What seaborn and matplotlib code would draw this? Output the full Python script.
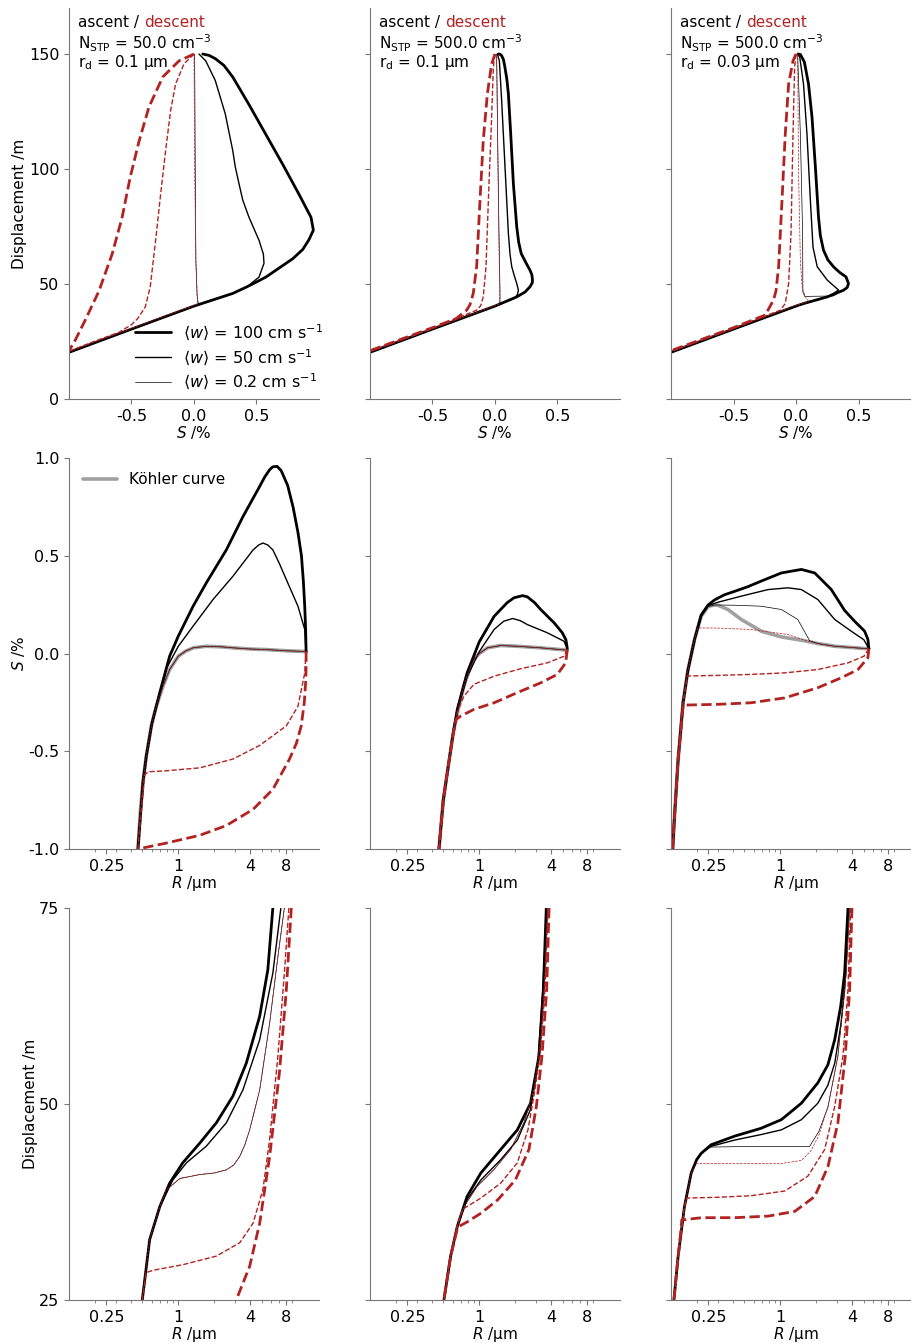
import seaborn as sns
import matplotlib.pyplot as plt
from matplotlib.lines import Line2D
from matplotlib.ticker import FixedLocator, LogLocator, NullFormatter

# Parcel ascent / descent trajectories.
# Three cases (columns a, b, c), three projections (rows):
#   sz_* : (S %, displacement m),  rs_* : (R um, S %),  rz_* : (R um, displacement m)
# up = ascent (black), dn = descent (red dashed); 100 / 50 / 02 = <w> in cm/s

cases_n = ["50.0", "500.0", "500.0"]
cases_rd = ["0.1", "0.1", "0.03"]
w_labels = ["100", "50", "0.2"]

# ---- row 1: S vs displacement ----
sz_a_up100 = [(-1.0, 20.3), (-0.5, 30.4), (0.0, 40.4), (0.31, 45.9), (0.44, 49.2), (0.575, 53.0),
              (0.79, 61.0), (0.87, 65.0), (0.92, 69.3), (0.955, 73.4), (0.936, 79.0), (0.84, 89.0),
              (0.71, 102.0), (0.575, 115.0), (0.44, 128.0), (0.31, 140.0), (0.24, 145.0),
              (0.17, 148.0), (0.12, 149.4), (0.07, 150.0)]
sz_a_up50 = [(-1.0, 20.3), (-0.5, 30.4), (0.0, 40.4), (0.31, 45.9), (0.42, 48.6), (0.52, 53.0),
             (0.56, 59.0), (0.555, 63.0), (0.52, 69.0), (0.48, 74.0), (0.44, 79.0), (0.39, 86.5),
             (0.36, 93.6), (0.33, 101.0), (0.31, 108.0), (0.25, 124.0), (0.17, 138.5),
             (0.094, 147.0), (0.04, 150.0)]
sz_a_up02 = [(-1.0, 20.3), (-0.5, 30.4), (0.0, 40.4), (0.035, 41.2), (0.025, 45.0), (0.015, 60.0),
             (0.01, 100.0), (0.005, 150.0)]
sz_a_dn100 = [(0.0, 150.0), (-0.12, 147.0), (-0.25, 140.0), (-0.36, 127.0), (-0.44, 112.0),
              (-0.51, 96.5), (-0.575, 79.0), (-0.655, 63.0), (-0.76, 47.0), (-0.87, 34.3),
              (-0.95, 25.6), (-1.0, 21.0)]
sz_a_dn50 = [(0.0, 150.0), (-0.08, 145.7), (-0.147, 137.0), (-0.187, 125.5), (-0.227, 108.0),
             (-0.267, 89.0), (-0.307, 69.0), (-0.35, 48.8), (-0.39, 40.0), (-0.45, 35.0),
             (-0.5, 32.3), (-0.6, 29.0), (-0.8, 25.0), (-1.0, 20.8)]
sz_a_dn02 = [(0.0, 150.0), (0.005, 100.0), (0.015, 60.0), (0.025, 45.0), (0.03, 41.5), (0.0, 40.7),
             (-0.5, 30.7), (-1.0, 20.7)]

sz_b_up100 = [(-1.0, 20.3), (-0.5, 30.4), (0.0, 40.4), (0.174, 44.4), (0.24, 46.5), (0.28, 48.8),
              (0.298, 50.5), (0.30, 51.7), (0.295, 54.0), (0.28, 56.0), (0.245, 59.5), (0.21, 63.2),
              (0.19, 68.0), (0.174, 74.8), (0.147, 93.6), (0.126, 115.0), (0.107, 132.7),
              (0.095, 139.0), (0.08, 144.0), (0.068, 147.5), (0.053, 149.3), (0.04, 149.9),
              (0.027, 150.0)]
sz_b_up50 = [(-1.0, 20.3), (-0.5, 30.4), (0.0, 40.4), (0.16, 43.9), (0.18, 45.5), (0.187, 47.3),
             (0.174, 50.2), (0.155, 53.5), (0.134, 57.5), (0.12, 63.0), (0.107, 72.0), (0.08, 101.0),
             (0.053, 130.0), (0.035, 147.0), (0.019, 150.0)]
sz_b_up02 = [(-1.0, 20.3), (-0.5, 30.4), (0.0, 40.4), (0.04, 41.2), (0.04, 47.3), (0.032, 72.0),
             (0.021, 115.0), (0.013, 150.0)]
sz_b_dn100 = [(0.0, 150.0), (-0.027, 145.7), (-0.061, 132.7), (-0.094, 112.4), (-0.12, 86.4),
              (-0.147, 57.5), (-0.174, 45.9), (-0.2, 41.0), (-0.227, 38.6), (-0.31, 35.0),
              (-0.5, 31.0), (-1.0, 21.0)]
sz_b_dn50 = [(0.0, 150.0), (-0.013, 144.3), (-0.027, 122.6), (-0.053, 86.4), (-0.072, 57.5),
             (-0.094, 44.4), (-0.115, 40.5), (-0.147, 38.6), (-0.5, 30.8), (-1.0, 20.8)]
sz_b_dn02 = [(0.013, 150.0), (0.02, 115.0), (0.03, 72.0), (0.038, 47.0), (0.035, 41.3), (0.0, 40.6),
             (-0.5, 30.6), (-1.0, 20.6)]

sz_c_up100 = [(-1.0, 20.3), (-0.5, 30.4), (0.0, 40.4), (0.06, 41.5), (0.25, 44.4), (0.38, 47.3),
              (0.41, 48.5), (0.42, 50.2), (0.40, 53.1), (0.35, 55.0), (0.30, 57.5), (0.255, 60.5),
              (0.22, 64.7), (0.195, 71.0), (0.18, 79.2), (0.155, 100.9), (0.128, 122.6),
              (0.10, 137.0), (0.067, 146.5), (0.035, 149.8), (0.016, 150.0)]
sz_c_up50 = [(-1.0, 20.3), (-0.5, 30.4), (0.0, 40.4), (0.25, 44.4), (0.30, 45.9), (0.34, 47.4),
             (0.30, 49.3), (0.25, 51.7), (0.17, 57.5), (0.136, 66.0), (0.115, 86.4), (0.088, 115.0),
             (0.06, 137.0), (0.03, 148.6), (0.013, 150.0)]
sz_c_up02 = [(-1.0, 20.3), (-0.5, 30.4), (0.0, 40.4), (0.25, 44.4), (0.33, 45.8), (0.30, 44.8),
             (0.07, 44.6), (0.055, 46.5), (0.053, 72.0), (0.035, 115.0), (0.013, 150.0)]
sz_c_dn100 = [(0.0, 150.0), (-0.024, 147.0), (-0.059, 137.0), (-0.086, 115.0), (-0.112, 86.4),
              (-0.139, 57.5), (-0.16, 47.0), (-0.18, 43.0), (-0.246, 36.5), (-0.5, 31.0), (-1.0, 21.0)]
sz_c_dn50 = [(0.0, 150.0), (-0.011, 144.3), (-0.024, 115.0), (-0.04, 72.0), (-0.059, 50.2),
             (-0.086, 41.5), (-0.126, 38.6), (-0.5, 30.8), (-1.0, 20.8)]
sz_c_dn02 = [(0.013, 150.0), (0.02, 100.0), (0.035, 60.0), (0.05, 48.0), (0.08, 44.0), (0.1, 42.5),
             (0.0, 40.7), (-0.5, 30.7), (-1.0, 20.7)]

# ---- row 2: R vs S, with Koehler curves ----
kohler_a = [(0.46, -1.0), (0.48, -0.82), (0.506, -0.66), (0.54, -0.525), (0.595, -0.371),
            (0.655, -0.27), (0.745, -0.167), (0.846, -0.082), (1.0, -0.014), (1.15, 0.012),
            (1.33, 0.029), (1.71, 0.037), (2.3, 0.034), (2.86, 0.029), (4.0, 0.023), (5.44, 0.02),
            (8.0, 0.014), (11.7, 0.01)]
rs_a_up100 = [(0.46, -1.0), (0.506, -0.66), (0.54, -0.525), (0.60, -0.36), (0.70, -0.2),
              (0.846, -0.014), (1.0, 0.089), (1.33, 0.242), (1.71, 0.36), (2.52, 0.53), (3.47, 0.70),
              (4.79, 0.855), (5.3, 0.905), (5.8, 0.94), (6.17, 0.955), (6.7, 0.957), (7.25, 0.935),
              (8.2, 0.86), (9.1, 0.75), (10.0, 0.62), (10.7, 0.50), (11.1, 0.37), (11.4, 0.24),
              (11.6, 0.12), (11.7, 0.01)]
rs_a_up50 = [(0.46, -1.0), (0.506, -0.66), (0.54, -0.525), (0.60, -0.36), (0.70, -0.21),
             (0.79, -0.08), (1.0, 0.037), (1.33, 0.14), (1.95, 0.276), (2.86, 0.395), (4.22, 0.53),
             (4.7, 0.555), (5.1, 0.565), (5.6, 0.555), (6.17, 0.53), (7.0, 0.46), (8.0, 0.378),
             (10.0, 0.242), (11.4, 0.123), (11.7, 0.01)]
rs_a_up02 = kohler_a
rs_a_dn100 = [(11.7, 0.01), (11.7, -0.06), (11.65, -0.13), (11.3, -0.25), (10.66, -0.37),
              (9.7, -0.46), (8.5, -0.54), (6.17, -0.695), (4.22, -0.797), (2.52, -0.88),
              (1.51, -0.93), (0.79, -0.97), (0.46, -1.0)]
rs_a_dn50 = [(11.7, 0.01), (11.4, -0.1), (10.0, -0.27), (8.0, -0.37), (4.79, -0.47), (2.86, -0.54),
             (1.51, -0.585), (0.79, -0.6), (0.56, -0.605), (0.525, -0.62), (0.49, -0.8), (0.46, -1.0)]
rs_a_dn02 = kohler_a

kohler_b = [(0.46, -1.0), (0.50, -0.75), (0.54, -0.61), (0.614, -0.388), (0.68, -0.26),
            (0.744, -0.167), (0.82, -0.09), (0.90, -0.03), (1.0, 0.0), (1.17, 0.029), (1.51, 0.041),
            (2.08, 0.037), (3.26, 0.029), (5.44, 0.017)]
rs_b_up100 = [(0.46, -1.0), (0.50, -0.75), (0.54, -0.61), (0.60, -0.42), (0.655, -0.286),
              (0.79, -0.1), (1.0, 0.06), (1.33, 0.19), (1.71, 0.26), (1.95, 0.285), (2.3, 0.296),
              (2.52, 0.29), (2.9, 0.26), (3.26, 0.225), (4.22, 0.157), (4.94, 0.106), (5.3, 0.07),
              (5.44, 0.025)]
rs_b_up50 = [(0.46, -1.0), (0.50, -0.75), (0.54, -0.61), (0.60, -0.42), (0.655, -0.29),
             (0.79, -0.12), (1.0, 0.01), (1.33, 0.123), (1.6, 0.165), (1.9, 0.179), (2.2, 0.168),
             (2.52, 0.148), (3.7, 0.106), (5.1, 0.063), (5.44, 0.025)]
rs_b_up02 = kohler_b
rs_b_dn100 = [(5.44, 0.02), (5.27, -0.048), (4.49, -0.107), (3.26, -0.15), (2.08, -0.2),
              (1.33, -0.252), (0.9, -0.286), (0.70, -0.32), (0.64, -0.337), (0.60, -0.42),
              (0.54, -0.61), (0.50, -0.75), (0.46, -1.0)]
rs_b_dn50 = [(5.44, 0.02), (5.1, -0.014), (3.7, -0.048), (2.21, -0.078), (1.33, -0.116),
             (0.9, -0.158), (0.744, -0.218), (0.655, -0.3), (0.614, -0.388), (0.54, -0.61),
             (0.50, -0.75), (0.46, -1.0)]
rs_b_dn02 = kohler_b

kohler_c = [(0.126, -1.0), (0.13, -0.85), (0.14, -0.54), (0.154, -0.25), (0.169, -0.085),
            (0.192, 0.072), (0.218, 0.19), (0.249, 0.24), (0.282, 0.248), (0.301, 0.247),
            (0.365, 0.225), (0.472, 0.174), (0.694, 0.114), (1.02, 0.085), (1.5, 0.068),
            (2.06, 0.051), (2.85, 0.037), (5.5, 0.024)]
rs_c_up100 = [(0.126, -1.0), (0.13, -0.85), (0.14, -0.54), (0.154, -0.25), (0.169, -0.085),
              (0.192, 0.072), (0.218, 0.197), (0.249, 0.248), (0.282, 0.274), (0.34, 0.30),
              (0.415, 0.318), (0.537, 0.342), (0.69, 0.37), (1.02, 0.412), (1.5, 0.43),
              (1.94, 0.412), (2.67, 0.327), (3.45, 0.22), (4.18, 0.165), (5.07, 0.114),
              (5.4, 0.072), (5.5, 0.024)]
rs_c_up50 = [(0.126, -1.0), (0.13, -0.85), (0.14, -0.54), (0.154, -0.25), (0.169, -0.085),
             (0.192, 0.072), (0.218, 0.19), (0.25, 0.245), (0.30, 0.262), (0.47, 0.293),
             (0.79, 0.327), (1.16, 0.336), (1.5, 0.327), (2.06, 0.276), (2.85, 0.174),
             (3.92, 0.114), (5.0, 0.07), (5.5, 0.024)]
rs_c_up02 = [(0.126, -1.0), (0.13, -0.85), (0.14, -0.54), (0.154, -0.25), (0.169, -0.085),
             (0.192, 0.072), (0.218, 0.19), (0.249, 0.24), (0.282, 0.248), (0.415, 0.247),
             (0.69, 0.242), (1.02, 0.225), (1.4, 0.174), (1.76, 0.065), (2.06, 0.051),
             (2.85, 0.037), (5.5, 0.024)]
rs_c_dn100 = [(5.5, 0.024), (5.4, -0.022), (4.46, -0.082), (3.24, -0.124), (2.06, -0.175),
              (1.09, -0.227), (0.57, -0.252), (0.30, -0.26), (0.154, -0.264), (0.14, -0.54),
              (0.13, -0.85), (0.126, -1.0)]
rs_c_dn50 = [(5.5, 0.024), (5.0, -0.014), (3.68, -0.048), (2.06, -0.082), (1.09, -0.099),
             (0.57, -0.107), (0.30, -0.112), (0.167, -0.115), (0.154, -0.25), (0.14, -0.54),
             (0.13, -0.85), (0.126, -1.0)]
rs_c_dn02 = [(5.5, 0.024), (2.85, 0.037), (2.06, 0.051), (1.7, 0.063), (1.16, 0.097), (0.57, 0.123),
             (0.30, 0.13), (0.205, 0.131), (0.192, 0.072), (0.169, -0.085), (0.154, -0.25),
             (0.14, -0.54), (0.13, -0.85), (0.126, -1.0)]

# ---- row 3: R vs displacement ----
rz_a_up100 = [(0.5, 25.0), (0.576, 32.7), (0.70, 36.9), (0.846, 39.9), (1.09, 42.5), (1.51, 45.0),
              (2.08, 47.6), (2.86, 51.0), (3.7, 55.2), (4.79, 61.2), (5.6, 67.1), (6.17, 75.0)]
rz_a_up50 = [(0.5, 25.0), (0.576, 32.7), (0.70, 36.9), (0.9, 40.3), (1.17, 42.5), (1.71, 44.6),
             (2.52, 47.6), (3.47, 51.8), (4.79, 58.2), (6.17, 66.7), (7.2, 75.0)]
rz_a_up02 = [(0.5, 25.0), (0.576, 32.7), (0.70, 36.9), (0.79, 39.0), (1.03, 40.5), (1.51, 41.0),
             (2.0, 41.2), (2.52, 41.6), (2.9, 42.2), (3.26, 43.3), (3.6, 44.8), (3.95, 46.7),
             (4.79, 51.8), (5.8, 60.3), (6.8, 68.8), (7.7, 75.0)]
rz_a_dn100 = [(8.8, 75.0), (8.0, 64.6), (7.0, 54.0), (5.8, 43.3), (4.79, 34.8), (3.95, 29.3),
              (3.05, 25.0)]
rz_a_dn50 = [(8.4, 75.0), (7.7, 66.7), (6.8, 56.1), (5.8, 45.5), (5.1, 39.1), (4.22, 34.8),
             (3.26, 32.3), (2.08, 30.6), (1.09, 29.5), (0.62, 28.8), (0.54, 28.5), (0.5, 25.0)]
rz_a_dn02 = rz_a_up02

rz_b_up100 = [(0.506, 25.0), (0.576, 30.6), (0.655, 34.4), (0.79, 38.2), (1.03, 41.2), (1.51, 44.2),
              (2.08, 46.7), (2.68, 50.1), (3.15, 56.1), (3.43, 64.6), (3.63, 75.0)]
rz_b_up50 = [(0.506, 25.0), (0.576, 30.6), (0.655, 34.4), (0.79, 37.8), (1.03, 40.3), (1.51, 42.9),
             (2.08, 45.4), (2.68, 49.3), (3.09, 55.2), (3.4, 64.6), (3.66, 75.0)]
rz_b_up02 = [(0.506, 25.0), (0.576, 30.6), (0.655, 34.4), (0.745, 36.9), (0.96, 39.5), (1.32, 41.6),
             (1.83, 44.2), (2.36, 47.6), (2.86, 51.8), (3.26, 58.2), (3.54, 66.7), (3.73, 75.0)]
rz_b_dn100 = [(3.83, 75.0), (3.66, 64.6), (3.34, 56.1), (3.0, 49.7), (2.6, 44.2), (2.0, 40.3),
              (1.43, 37.8), (1.04, 36.1), (0.8, 35.0), (0.66, 34.3), (0.576, 30.6), (0.506, 25.0)]
rz_b_dn50 = [(3.75, 75.0), (3.54, 64.6), (3.22, 56.1), (2.86, 51.0), (2.55, 46.7), (2.08, 42.5),
             (1.51, 39.9), (1.03, 38.0), (0.73, 36.6), (0.66, 34.8), (0.576, 30.6), (0.506, 25.0)]
rz_b_dn02 = rz_b_up02

rz_c_up100 = [(0.129, 25.0), (0.14, 30.6), (0.158, 36.9), (0.18, 41.2), (0.2, 42.9), (0.218, 43.7),
              (0.264, 44.8), (0.415, 45.9), (0.69, 46.9), (1.02, 48.0), (1.5, 50.1), (2.06, 52.7),
              (2.5, 55.0), (2.85, 58.2), (3.2, 62.5), (3.45, 66.7), (3.68, 75.0)]
rz_c_up50 = [(0.129, 25.0), (0.14, 30.6), (0.158, 36.9), (0.18, 41.2), (0.2, 42.9), (0.218, 43.7),
             (0.264, 44.6), (0.415, 45.4), (0.69, 46.1), (1.02, 46.7), (1.5, 48.0), (2.06, 50.1),
             (2.5, 52.4), (2.85, 55.2), (3.2, 60.0), (3.45, 64.6), (3.72, 75.0)]
rz_c_up02 = [(0.129, 25.0), (0.14, 30.6), (0.158, 36.9), (0.18, 41.2), (0.2, 42.9), (0.218, 43.7),
             (0.25, 44.5), (0.6, 44.6), (1.76, 44.6), (2.1, 46.5), (2.5, 49.6), (3.03, 56.1),
             (3.56, 66.7), (3.8, 75.0)]
rz_c_dn100 = [(3.97, 75.0), (3.8, 64.6), (3.49, 56.1), (3.03, 47.6), (2.5, 42.0), (1.94, 38.2),
              (1.32, 36.3), (0.79, 35.7), (0.415, 35.5), (0.22, 35.5), (0.15, 35.2), (0.148, 34.0),
              (0.14, 30.6), (0.129, 25.0)]
rz_c_dn50 = [(3.87, 75.0), (3.68, 64.6), (3.34, 56.1), (2.85, 49.7), (2.35, 44.2), (1.7, 40.8),
             (1.09, 38.9), (0.57, 38.3), (0.30, 38.1), (0.164, 38.0), (0.158, 36.9), (0.14, 30.6),
             (0.129, 25.0)]
rz_c_dn02 = [(3.8, 75.0), (3.56, 66.7), (3.03, 56.1), (2.5, 49.6), (2.1, 46.0), (1.8, 44.0),
             (1.5, 42.8), (1.0, 42.4), (0.5, 42.4), (0.2, 42.4), (0.18, 41.2), (0.158, 36.9),
             (0.14, 30.6), (0.129, 25.0)]

rows = [
    [[sz_a_up100, sz_a_up50, sz_a_up02, sz_a_dn100, sz_a_dn50, sz_a_dn02],
     [sz_b_up100, sz_b_up50, sz_b_up02, sz_b_dn100, sz_b_dn50, sz_b_dn02],
     [sz_c_up100, sz_c_up50, sz_c_up02, sz_c_dn100, sz_c_dn50, sz_c_dn02]],
    [[rs_a_up100, rs_a_up50, rs_a_up02, rs_a_dn100, rs_a_dn50, rs_a_dn02],
     [rs_b_up100, rs_b_up50, rs_b_up02, rs_b_dn100, rs_b_dn50, rs_b_dn02],
     [rs_c_up100, rs_c_up50, rs_c_up02, rs_c_dn100, rs_c_dn50, rs_c_dn02]],
    [[rz_a_up100, rz_a_up50, rz_a_up02, rz_a_dn100, rz_a_dn50, rz_a_dn02],
     [rz_b_up100, rz_b_up50, rz_b_up02, rz_b_dn100, rz_b_dn50, rz_b_dn02],
     [rz_c_up100, rz_c_up50, rz_c_up02, rz_c_dn100, rz_c_dn50, rz_c_dn02]],
]
kohler = [kohler_a, kohler_b, kohler_c]

sns.set_style("ticks")
plt.rcParams["font.family"] = ["DejaVu Sans"]
plt.rcParams["mathtext.fontset"] = "dejavusans"
plt.rcParams["axes.unicode_minus"] = False
plt.rcParams["font.size"] = 11
plt.rcParams["text.color"] = "black"
plt.rcParams["axes.labelcolor"] = "black"

RED = "#b22222"
SPINE = "#777777"
widths = [2.0, 1.0, 0.5]


def draw(ax, pts, color, lw, ls="-", alpha=1.0):
    xs = [p[0] for p in pts]
    ys = [p[1] for p in pts]
    sns.lineplot(x=xs, y=ys, sort=False, estimator=None, color=color, linewidth=lw,
                 linestyle=ls, alpha=alpha, ax=ax)


fig = plt.figure(figsize=(9.12, 13.43), dpi=100)
W, H = 912.0, 1343.0
col_left = [69, 370, 671]
row_top = [8, 458, 908]
row_h = [391, 391, 392]

for r in range(3):
    for c in range(3):
        ax = fig.add_axes([col_left[c] / W, 1 - (row_top[r] + row_h[r]) / H, 250 / W, row_h[r] / H])
        if r == 1:
            draw(ax, kohler[c], "gray", 2.6, alpha=0.75)
        curves = rows[r][c]
        for i in range(3):
            draw(ax, curves[i], "black", widths[i])
        for i in range(3):
            draw(ax, curves[3 + i], RED, widths[i], ls="--")

        sns.despine(ax=ax)
        for side in ["left", "bottom"]:
            ax.spines[side].set_color(SPINE)
        ax.tick_params(which="both", colors=SPINE, labelcolor="black", labelsize=11.5)

        if r == 0:
            ax.set_xlim(-1, 1)
            ax.set_xticks([-0.5, 0.0, 0.5])
            ax.set_ylim(0, 170)
            ax.set_yticks([0, 50, 100, 150])
            ax.set_xlabel("$S$ /%", fontsize=11, labelpad=0.5)
            t = ax.text(0.036, 0.951, "ascent / ", transform=ax.transAxes, fontsize=11,
                        va="baseline")
            ax.annotate("descent", xy=(1, 0), xycoords=t, va="bottom", color=RED, fontsize=11)
            ax.text(0.036, 0.894, r"N$_\mathrm{STP}$ = " + cases_n[c] + r" cm$^{-3}$",
                    transform=ax.transAxes, fontsize=11, va="baseline")
            ax.text(0.036, 0.850, r"r$_\mathrm{d}$ = " + cases_rd[c] + " µm",
                    transform=ax.transAxes, fontsize=11, va="baseline")
        else:
            ax.set_xscale("log")
            ax.set_xlim(0.122, 15.0)
            ax.xaxis.set_major_locator(FixedLocator([0.25, 1, 4, 8]))
            ax.set_xticklabels(["0.25", "1", "4", "8"])
            ax.xaxis.set_minor_locator(LogLocator(base=10, subs=[2, 3, 4, 5, 6, 7, 8, 9]))
            ax.xaxis.set_minor_formatter(NullFormatter())
            ax.set_xlabel("$R$ /µm", fontsize=11, labelpad=0.5)
            if r == 1:
                ax.set_ylim(-1, 1)
                ax.set_yticks([-1.0, -0.5, 0.0, 0.5, 1.0])
            else:
                ax.set_ylim(25, 75)
                ax.set_yticks([25, 50, 75])

        if c == 0:
            ax.set_ylabel(["Displacement /m", "$S$ /%", "Displacement /m"][r], fontsize=11,
                          labelpad=1)
        else:
            ax.set_yticklabels([])

        if r == 0 and c == 0:
            handles = [Line2D([], [], color="black", lw=widths[i]) for i in range(3)]
            labels = [r"$\langle w \rangle$ = " + w + r" cm s$^{-1}$" for w in w_labels]
            ax.legend(handles, labels, loc="lower right", bbox_to_anchor=(1.04, 0.003),
                      frameon=False, fontsize=11.5, handlelength=2.2, handletextpad=0.75,
                      labelspacing=0.3, borderaxespad=0)
        if r == 1 and c == 0:
            h = [Line2D([], [], color="gray", lw=2.6, alpha=0.75)]
            ax.legend(h, ["Köhler curve"], loc="upper left", bbox_to_anchor=(0.032, 0.98),
                      frameon=False, fontsize=11, handlelength=2.2, handletextpad=0.8,
                      borderaxespad=0)

fig.savefig("out.png", dpi=100)
